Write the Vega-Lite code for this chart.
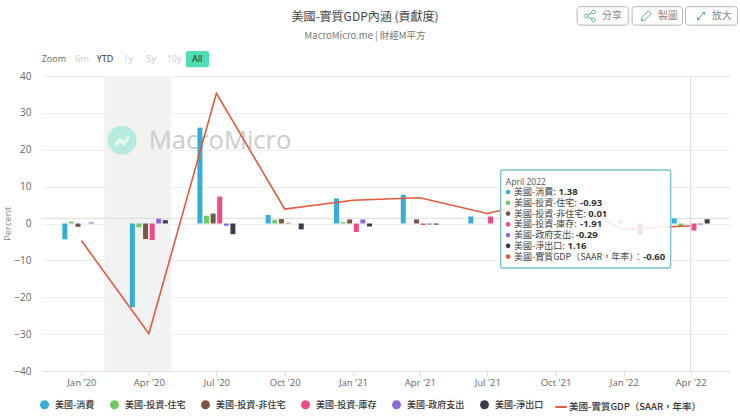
{
  "$schema": "https://vega.github.io/schema/vega-lite/v6.json",
  "width": 688,
  "height": 295,
  "autosize": {"type": "none"},
  "padding": {"left": 42, "top": 76, "right": 10, "bottom": 46},
  "background": "white",
  "title": {
    "text": "美國-實質GDP內涵 (貢獻度)",
    "subtitle": "MacroMicro.me | 財經M平方",
    "anchor": "middle",
    "dx": -21,
    "offset": -35,
    "fontSize": 12,
    "fontWeight": "normal",
    "color": "#444444",
    "subtitleFontSize": 9.5,
    "subtitleColor": "#777777",
    "subtitlePadding": 7
  },
  "config": {
    "font": "Noto Sans CJK TC",
    "view": {"stroke": null}
  },
  "datasets": {
    "bars": [
      {"date": "2020-01-01", "series": "美國-消費", "value": -4.3},
      {"date": "2020-01-01", "series": "美國-投資-住宅", "value": 0.5},
      {"date": "2020-01-01", "series": "美國-投資-非住宅", "value": -0.9},
      {"date": "2020-01-01", "series": "美國-政府支出", "value": 0.3},
      {"date": "2020-04-01", "series": "美國-消費", "value": -22.7},
      {"date": "2020-04-01", "series": "美國-投資-住宅", "value": -1.0},
      {"date": "2020-04-01", "series": "美國-投資-非住宅", "value": -4.2},
      {"date": "2020-04-01", "series": "美國-投資-庫存", "value": -4.5},
      {"date": "2020-04-01", "series": "美國-政府支出", "value": 1.3},
      {"date": "2020-04-01", "series": "美國-淨出口", "value": 0.9},
      {"date": "2020-07-01", "series": "美國-消費", "value": 26.0},
      {"date": "2020-07-01", "series": "美國-投資-住宅", "value": 2.1},
      {"date": "2020-07-01", "series": "美國-投資-非住宅", "value": 2.7},
      {"date": "2020-07-01", "series": "美國-投資-庫存", "value": 7.3},
      {"date": "2020-07-01", "series": "美國-政府支出", "value": -0.6},
      {"date": "2020-07-01", "series": "美國-淨出口", "value": -2.9},
      {"date": "2020-10-01", "series": "美國-消費", "value": 2.3},
      {"date": "2020-10-01", "series": "美國-投資-住宅", "value": 1.0},
      {"date": "2020-10-01", "series": "美國-投資-非住宅", "value": 1.2},
      {"date": "2020-10-01", "series": "美國-投資-庫存", "value": 0.2},
      {"date": "2020-10-01", "series": "美國-淨出口", "value": -1.6},
      {"date": "2021-01-01", "series": "美國-消費", "value": 6.8},
      {"date": "2021-01-01", "series": "美國-投資-住宅", "value": 0.4},
      {"date": "2021-01-01", "series": "美國-投資-非住宅", "value": 1.1},
      {"date": "2021-01-01", "series": "美國-投資-庫存", "value": -2.3},
      {"date": "2021-01-01", "series": "美國-政府支出", "value": 1.1},
      {"date": "2021-01-01", "series": "美國-淨出口", "value": -0.8},
      {"date": "2021-04-01", "series": "美國-消費", "value": 7.8},
      {"date": "2021-04-01", "series": "美國-投資-非住宅", "value": 1.1},
      {"date": "2021-04-01", "series": "美國-投資-庫存", "value": -0.4},
      {"date": "2021-04-01", "series": "美國-政府支出", "value": -0.3},
      {"date": "2021-04-01", "series": "美國-淨出口", "value": -0.3},
      {"date": "2021-07-01", "series": "美國-消費", "value": 1.9},
      {"date": "2021-07-01", "series": "美國-投資-庫存", "value": 1.9},
      {"date": "2022-01-01", "series": "美國-投資-非住宅", "value": 0.9},
      {"date": "2022-01-01", "series": "美國-淨出口", "value": -3.1},
      {"date": "2022-04-01", "series": "美國-消費", "value": 1.38},
      {"date": "2022-04-01", "series": "美國-投資-住宅", "value": -0.93},
      {"date": "2022-04-01", "series": "美國-投資-非住宅", "value": 0.01},
      {"date": "2022-04-01", "series": "美國-投資-庫存", "value": -1.91},
      {"date": "2022-04-01", "series": "美國-政府支出", "value": -0.29},
      {"date": "2022-04-01", "series": "美國-淨出口", "value": 1.16}
    ],
    "gdp": [
      {"date": "2020-01-01", "series": "美國-實質GDP（SAAR，年率）", "value": -4.6},
      {"date": "2020-04-01", "series": "美國-實質GDP（SAAR，年率）", "value": -29.9},
      {"date": "2020-07-01", "series": "美國-實質GDP（SAAR，年率）", "value": 35.3},
      {"date": "2020-10-01", "series": "美國-實質GDP（SAAR，年率）", "value": 3.9},
      {"date": "2021-01-01", "series": "美國-實質GDP（SAAR，年率）", "value": 6.3},
      {"date": "2021-04-01", "series": "美國-實質GDP（SAAR，年率）", "value": 7.0},
      {"date": "2021-07-01", "series": "美國-實質GDP（SAAR，年率）", "value": 2.7},
      {"date": "2021-10-01", "series": "美國-實質GDP（SAAR，年率）", "value": 7.0},
      {"date": "2022-01-01", "series": "美國-實質GDP（SAAR，年率）", "value": -1.6},
      {"date": "2022-04-01", "series": "美國-實質GDP（SAAR，年率）", "value": -0.6}
    ],
    "tip": [
      {"series": "美國-消費", "name": "美國-消費:", "amount": "1.38", "dot": "2021-07-29", "nameAt": "2021-08-06", "amountAt": "2021-10-05", "row": 8.54},
      {"series": "美國-投資-住宅", "name": "美國-投資-住宅:", "amount": "-0.93", "dot": "2021-07-29", "nameAt": "2021-08-06", "amountAt": "2021-11-03", "row": 5.62},
      {"series": "美國-投資-非住宅", "name": "美國-投資-非住宅:", "amount": "0.01", "dot": "2021-07-29", "nameAt": "2021-08-06", "amountAt": "2021-11-14", "row": 2.7},
      {"series": "美國-投資-庫存", "name": "美國-投資-庫存:", "amount": "-1.91", "dot": "2021-07-29", "nameAt": "2021-08-06", "amountAt": "2021-11-03", "row": -0.22},
      {"series": "美國-政府支出", "name": "美國-政府支出:", "amount": "-0.29", "dot": "2021-07-29", "nameAt": "2021-08-06", "amountAt": "2021-10-28", "row": -3.14},
      {"series": "美國-淨出口", "name": "美國-淨出口:", "amount": "1.16", "dot": "2021-07-29", "nameAt": "2021-08-06", "amountAt": "2021-10-17", "row": -6.06},
      {"series": "美國-實質GDP（SAAR，年率）", "name": "美國-實質GDP（SAAR，年率）：", "amount": "-0.60", "dot": "2021-07-29", "nameAt": "2021-08-06", "amountAt": "2022-01-27", "row": -8.98}
    ],
    "buttons": [
      {"label": "分享", "start": "2021-10-30", "end": "2022-01-07", "textAt": "2021-12-16", "iconAt": "2021-11-16"},
      {"label": "製圖", "start": "2022-01-12", "end": "2022-03-21", "textAt": "2022-03-01", "iconAt": "2022-01-31"},
      {"label": "放大", "start": "2022-03-25", "end": "2022-06-03", "textAt": "2022-05-13", "iconAt": "2022-04-15"}
    ],
    "ranges": [
      {"label": "Zoom", "at": "2019-11-25", "state": "head"},
      {"label": "6m", "at": "2020-01-02", "state": "off"},
      {"label": "YTD", "at": "2020-02-02", "state": "on"},
      {"label": "1y", "at": "2020-03-04", "state": "off"},
      {"label": "5y", "at": "2020-04-04", "state": "off"},
      {"label": "10y", "at": "2020-05-05", "state": "off"},
      {"label": "All", "at": "2020-06-05", "state": "active"}
    ]
  },
  "layer": [
    {
      "data": {"values": [{"start": "2020-02-01", "end": "2020-05-01", "top": 40, "bottom": -40}]},
      "mark": {"type": "rect", "color": "#f2f2f2"},
      "encoding": {
        "x": {
          "field": "start",
          "type": "temporal",
          "scale": {
            "type": "utc",
            "nice": false,
            "padding": 0,
            "domain": [
              {"year": 2019, "month": 11, "date": 9, "utc": true},
              {"year": 2022, "month": 5, "date": 24, "utc": true}
            ]
          },
          "axis": {
            "title": null,
            "format": "%b '%y",
            "values": [
              {"year": 2020, "month": 1, "date": 1, "utc": true},
              {"year": 2020, "month": 4, "date": 1, "utc": true},
              {"year": 2020, "month": 7, "date": 1, "utc": true},
              {"year": 2020, "month": 10, "date": 1, "utc": true},
              {"year": 2021, "month": 1, "date": 1, "utc": true},
              {"year": 2021, "month": 4, "date": 1, "utc": true},
              {"year": 2021, "month": 7, "date": 1, "utc": true},
              {"year": 2021, "month": 10, "date": 1, "utc": true},
              {"year": 2022, "month": 1, "date": 1, "utc": true},
              {"year": 2022, "month": 4, "date": 1, "utc": true}
            ],
            "grid": false,
            "domainColor": "#e0e0e0",
            "tickColor": "#e0e0e0",
            "tickSize": 5,
            "labelColor": "#666666",
            "labelFont": "Open Sans",
            "labelFontSize": 9.5,
            "labelPadding": 1
          }
        },
        "x2": {"field": "end"},
        "y": {
          "field": "top",
          "type": "quantitative",
          "scale": {"domain": [-40, 40], "nice": false},
          "axis": {
            "title": "Percent",
            "titleColor": "#888888",
            "titleFont": "Open Sans",
            "titleFontSize": 9.5,
            "titleFontWeight": "normal",
            "titleX": -29.5,
            "values": [-40, -30, -20, -10, 0, 10, 20, 30, 40],
            "tickCount": 9,
            "ticks": false,
            "domain": false,
            "gridColor": "#eeeeee",
            "labelColor": "#666666",
            "labelFont": "Open Sans",
            "labelFontSize": 10,
            "labelPadding": 11
          }
        },
        "y2": {"field": "bottom"}
      }
    },
    {
      "data": {"values": [{"date": "2020-02-25", "y": 22.6}]},
      "mark": {"type": "point", "filled": true, "color": "#b7ebdd", "opacity": 1, "size": 841},
      "encoding": {
        "x": {"field": "date", "type": "temporal"},
        "y": {"field": "y", "type": "quantitative"}
      }
    },
    {
      "data": {"values": [{"date": "2020-02-25", "y": 22.6}]},
      "mark": {
        "type": "point",
        "shape": "M-0.8,0.4L-0.25,-0.2L0.15,0.2L0.8,-0.5M-0.8,0.75L-0.25,0.15L0.15,0.55L0.8,-0.15",
        "filled": false,
        "color": "white",
        "opacity": 1,
        "strokeWidth": 1.2,
        "size": 280
      },
      "encoding": {
        "x": {"field": "date", "type": "temporal"},
        "y": {"field": "y", "type": "quantitative"}
      }
    },
    {
      "data": {"values": [{"date": "2020-04-01", "y": 22.5, "word": "MacroMicro"}]},
      "mark": {"type": "text", "align": "left", "baseline": "middle", "font": "Open Sans", "fontSize": 25.5, "color": "#cccccc"},
      "encoding": {
        "x": {"field": "date", "type": "temporal"},
        "y": {"field": "y", "type": "quantitative"},
        "text": {"field": "word"}
      }
    },
    {
      "data": {"values": [{"y": 1.4}]},
      "mark": {"type": "rule", "color": "#dddddd"},
      "encoding": {"y": {"field": "y", "type": "quantitative"}}
    },
    {
      "data": {"name": "bars"},
      "encoding": {
        "x": {"field": "date", "type": "temporal"},
        "y": {"field": "value", "type": "quantitative", "stack": null},
        "fill": {
          "field": "series",
          "type": "nominal",
          "scale": {
            "domain": ["美國-消費", "美國-投資-住宅", "美國-投資-非住宅", "美國-投資-庫存", "美國-政府支出", "美國-淨出口", "美國-實質GDP（SAAR，年率）"],
            "range": ["#36acd9", "#6ecb63", "#7a5648", "#ee4b86", "#8e6ad8", "#3b3b49", "#e25a3f"]
          },
          "legend": {
            "title": null,
            "orient": "none",
            "legendX": -2,
            "legendY": 324,
            "direction": "horizontal",
            "columns": 6,
            "values": ["美國-消費", "美國-投資-住宅", "美國-投資-非住宅", "美國-投資-庫存", "美國-政府支出", "美國-淨出口"],
            "symbolType": "circle",
            "symbolSize": 80,
            "symbolStrokeWidth": 0,
            "labelFontSize": 9,
            "labelColor": "#333333",
            "labelFontWeight": 500,
            "labelOffset": 6,
            "columnPadding": 15,
            "padding": 0
          }
        }
      },
      "layer": [
        {
          "transform": [{"filter": {"field": "series", "equal": "美國-消費"}}],
          "mark": {"type": "bar", "size": 5, "xOffset": -16.5}
        },
        {
          "transform": [{"filter": {"field": "series", "equal": "美國-投資-住宅"}}],
          "mark": {"type": "bar", "size": 5, "xOffset": -9.9}
        },
        {
          "transform": [{"filter": {"field": "series", "equal": "美國-投資-非住宅"}}],
          "mark": {"type": "bar", "size": 5, "xOffset": -3.3}
        },
        {
          "transform": [{"filter": {"field": "series", "equal": "美國-投資-庫存"}}],
          "mark": {"type": "bar", "size": 5, "xOffset": 3.3}
        },
        {
          "transform": [{"filter": {"field": "series", "equal": "美國-政府支出"}}],
          "mark": {"type": "bar", "size": 5, "xOffset": 9.9}
        },
        {
          "transform": [{"filter": {"field": "series", "equal": "美國-淨出口"}}],
          "mark": {"type": "bar", "size": 5, "xOffset": 16.5}
        }
      ]
    },
    {
      "data": {"name": "gdp"},
      "mark": {"type": "line", "strokeWidth": 1.6},
      "encoding": {
        "x": {"field": "date", "type": "temporal"},
        "y": {"field": "value", "type": "quantitative"},
        "stroke": {
          "field": "series",
          "type": "nominal",
          "scale": {"range": ["#e25a3f"]},
          "legend": {
            "title": null,
            "orient": "none",
            "legendX": 512,
            "legendY": 324,
            "symbolType": "stroke",
            "symbolSize": 130,
            "symbolStrokeWidth": 2,
            "labelFontSize": 9.5,
            "labelColor": "#333333",
            "labelFontWeight": 500,
            "labelOffset": 1,
            "padding": 0
          }
        }
      }
    },
    {
      "data": {"values": [{"date": "2022-04-01"}]},
      "mark": {"type": "rule", "color": "#d8d8d8"},
      "encoding": {"x": {"field": "date", "type": "temporal"}}
    },
    {
      "data": {"values": [{"start": "2021-07-19", "end": "2022-03-05", "top": 14.5, "bottom": -12.1}]},
      "mark": {"type": "rect", "fill": "white", "fillOpacity": 0.88, "stroke": "#7fc4cf", "strokeWidth": 1.5, "cornerRadius": 2},
      "encoding": {
        "x": {"field": "start", "type": "temporal"},
        "x2": {"field": "end"},
        "y": {"field": "top", "type": "quantitative"},
        "y2": {"field": "bottom"}
      }
    },
    {
      "data": {"values": [{"date": "2021-07-26", "y": 11.3, "word": "April 2022"}]},
      "mark": {"type": "text", "align": "left", "baseline": "middle", "font": "Open Sans", "fontSize": 8.5, "color": "#555555"},
      "encoding": {
        "x": {"field": "date", "type": "temporal"},
        "y": {"field": "y", "type": "quantitative"},
        "text": {"field": "word"}
      }
    },
    {
      "data": {"name": "tip"},
      "mark": {"type": "point", "filled": true, "opacity": 1, "size": 22},
      "encoding": {
        "x": {"field": "dot", "type": "temporal"},
        "y": {"field": "row", "type": "quantitative"},
        "fill": {"field": "series", "type": "nominal"}
      }
    },
    {
      "data": {"name": "tip"},
      "mark": {"type": "text", "align": "left", "baseline": "middle", "fontSize": 9, "color": "#444444"},
      "encoding": {
        "x": {"field": "nameAt", "type": "temporal"},
        "y": {"field": "row", "type": "quantitative"},
        "text": {"field": "name"}
      }
    },
    {
      "data": {"name": "tip"},
      "mark": {"type": "text", "align": "left", "baseline": "middle", "font": "Open Sans", "fontSize": 9.5, "fontWeight": "bold", "color": "#333333"},
      "encoding": {
        "x": {"field": "amountAt", "type": "temporal"},
        "y": {"field": "row", "type": "quantitative"},
        "text": {"field": "amount"}
      }
    },
    {
      "data": {"values": [{"start": "2020-05-21", "end": "2020-06-21", "top": 46.8, "bottom": 42.4}]},
      "mark": {"type": "rect", "fill": "#4fdcb8", "cornerRadius": 2},
      "encoding": {
        "x": {"field": "start", "type": "temporal"},
        "x2": {"field": "end"},
        "y": {"field": "top", "type": "quantitative"},
        "y2": {"field": "bottom"}
      }
    },
    {
      "data": {"name": "ranges"},
      "mark": {"type": "text", "baseline": "middle", "font": "Open Sans", "fontSize": 9},
      "encoding": {
        "x": {"field": "at", "type": "temporal"},
        "y": {"datum": 44.6},
        "text": {"field": "label"},
        "fontWeight": {"condition": {"test": "datum.state === 'active'", "value": "bold"}, "value": "normal"},
        "color": {
          "field": "state",
          "type": "nominal",
          "scale": {"domain": ["head", "off", "on", "active"], "range": ["#666666", "#cccccc", "#333333", "#222222"]},
          "legend": null
        }
      }
    },
    {
      "data": {"name": "buttons"},
      "mark": {"type": "rect", "fill": "white", "stroke": "#b5b5b5", "cornerRadius": 3},
      "encoding": {
        "x": {"field": "start", "type": "temporal"},
        "x2": {"field": "end"},
        "y": {"datum": 58.8},
        "y2": {"datum": 53.8}
      }
    },
    {
      "data": {"name": "buttons"},
      "mark": {"type": "point", "filled": false, "opacity": 1, "strokeWidth": 1, "size": 144, "color": "#5aa88f"},
      "encoding": {
        "x": {"field": "iconAt", "type": "temporal"},
        "y": {"datum": 56.3},
        "shape": {
          "field": "label",
          "type": "nominal",
          "scale": {
            "domain": ["分享", "製圖", "放大"],
            "range": [
              "M0.95,-0.65A0.3,0.3,0,1,1,0.35,-0.65A0.3,0.3,0,1,1,0.95,-0.65ZM-0.35,0A0.3,0.3,0,1,1,-0.95,0A0.3,0.3,0,1,1,-0.35,0ZM0.95,0.65A0.3,0.3,0,1,1,0.35,0.65A0.3,0.3,0,1,1,0.95,0.65ZM-0.38,-0.15L0.38,-0.52M-0.38,0.15L0.38,0.52",
              "M-0.8,0.8L-0.65,0.2L0.4,-0.85L0.85,-0.4L-0.2,0.65Z",
              "M-0.6,0.6L0.6,-0.6M0.6,-0.6L0.15,-0.6M0.6,-0.6L0.6,-0.15M-0.6,0.6L-0.15,0.6M-0.6,0.6L-0.6,0.15"
            ]
          },
          "legend": null
        }
      }
    },
    {
      "data": {"name": "buttons"},
      "mark": {"type": "text", "baseline": "middle", "fontSize": 10, "color": "#888888"},
      "encoding": {
        "x": {"field": "textAt", "type": "temporal"},
        "y": {"datum": 56.3},
        "text": {"field": "label"}
      }
    }
  ]
}
